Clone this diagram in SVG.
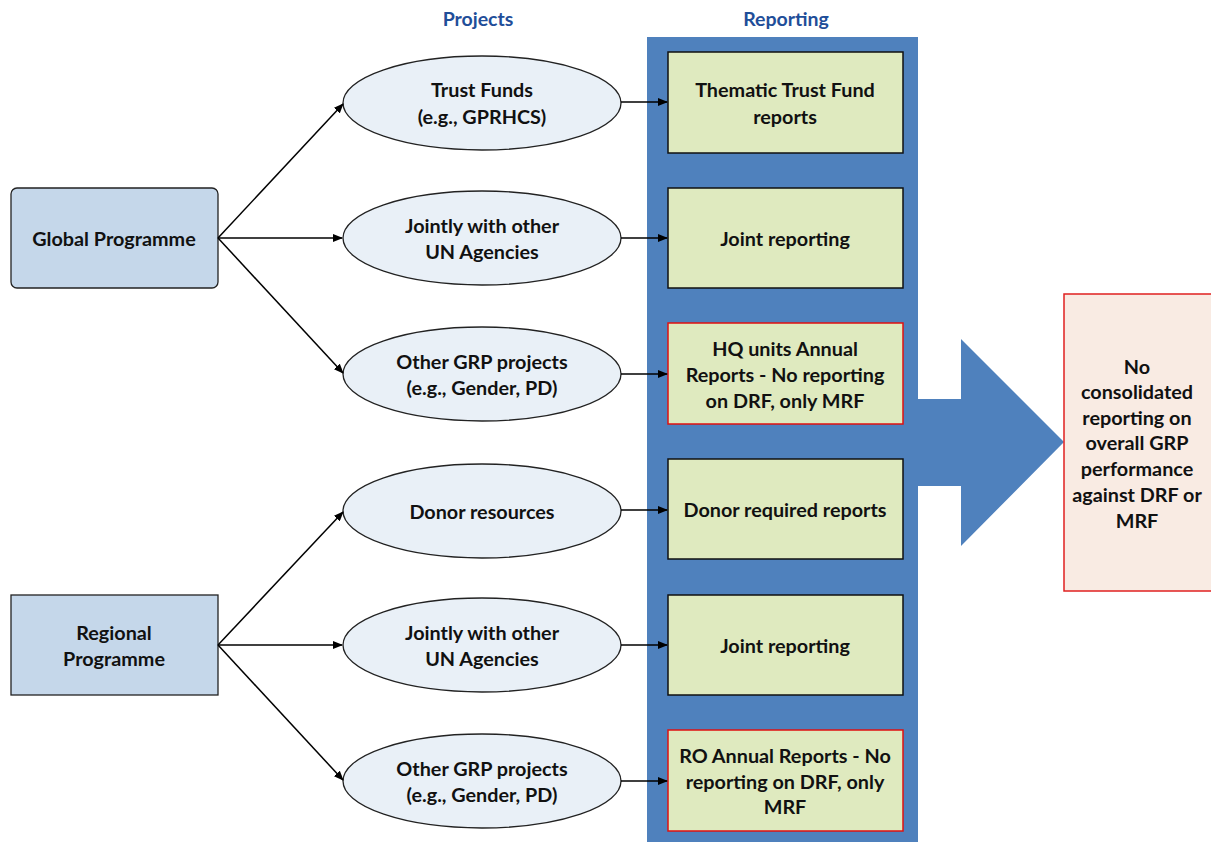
<svg xmlns="http://www.w3.org/2000/svg" width="1211" height="842" viewBox="0 0 1211 842">
<defs>
<marker id="ah" markerWidth="10" markerHeight="8" refX="9" refY="4" orient="auto" markerUnits="userSpaceOnUse">
<path d="M0,0 L10,4 L0,8 z" fill="#000"/>
</marker>
<style>
text{font-family:Lato,"Open Sans","Liberation Sans",sans-serif;font-weight:bold;font-size:19.8px;fill:#111;text-anchor:middle;dominant-baseline:central}
.hdr{fill:#1f4e99;font-size:19.5px}
.prog{fill:#c5d7ea;stroke:#222;stroke-width:1.3}
.ell{fill:#e9f0f7;stroke:#222;stroke-width:1.3}
.rep{fill:#dfeabf;stroke:#111;stroke-width:1.5}
.repred{fill:#dfeabf;stroke:#e01010;stroke-width:1.5}
.conn{stroke:#000;stroke-width:1.5;fill:none;marker-end:url(#ah)}
</style>
</defs>
<rect width="1211" height="842" fill="#fff"/>
<text class="hdr" x="478" y="18">Projects</text>
<text class="hdr" x="786" y="18">Reporting</text>
<g id="reporting-column">
<rect x="647" y="37" width="271" height="805" fill="#4f81bd"/>
</g>
<g id="big-arrow">
<polygon points="917,399 961,399 961,339 1064,442 961,546 961,486 917,486" fill="#4f81bd"/>
</g>
<g id="global-programme">
<rect class="prog" x="11" y="188" width="207" height="100" rx="6"/>
<text x="114" y="238">Global Programme</text>
</g>
<g id="regional-programme">
<rect class="prog" x="11" y="595" width="207" height="100"/>
<text x="114" y="632">Regional</text>
<text x="114" y="658">Programme</text>
</g>
<g id="trust-funds">
<ellipse class="ell" cx="482" cy="103" rx="139" ry="47"/>
<text x="482" y="89">Trust Funds</text>
<text x="482" y="116">(e.g., GPRHCS)</text>
</g>
<g id="jointly-global">
<ellipse class="ell" cx="482" cy="238" rx="139" ry="47"/>
<text x="482" y="225">Jointly with other</text>
<text x="482" y="251">UN Agencies</text>
</g>
<g id="other-grp-global">
<ellipse class="ell" cx="482" cy="374" rx="139" ry="47"/>
<text x="482" y="361">Other GRP projects</text>
<text x="482" y="387">(e.g., Gender, PD)</text>
</g>
<g id="donor-resources">
<ellipse class="ell" cx="482" cy="511" rx="139" ry="47"/>
<text x="482" y="511">Donor resources</text>
</g>
<g id="jointly-regional">
<ellipse class="ell" cx="482" cy="645" rx="139" ry="47"/>
<text x="482" y="632">Jointly with other</text>
<text x="482" y="658">UN Agencies</text>
</g>
<g id="other-grp-regional">
<ellipse class="ell" cx="482" cy="781" rx="139" ry="47"/>
<text x="482" y="768">Other GRP projects</text>
<text x="482" y="794">(e.g., Gender, PD)</text>
</g>
<g id="thematic-reports">
<rect class="rep" x="668" y="52" width="235" height="101"/>
<text x="785" y="89">Thematic Trust Fund</text>
<text x="785" y="116">reports</text>
</g>
<g id="joint-reporting-global">
<rect class="rep" x="668" y="188" width="235" height="100"/>
<text x="785" y="238">Joint reporting</text>
</g>
<g id="hq-annual-reports">
<rect class="repred" x="668" y="323" width="235" height="101"/>
<text x="785" y="348">HQ units Annual</text>
<text x="785" y="374">Reports - No reporting</text>
<text x="785" y="400">on DRF, only MRF</text>
</g>
<g id="donor-reports">
<rect class="rep" x="668" y="459" width="235" height="100"/>
<text x="785" y="509">Donor required reports</text>
</g>
<g id="joint-reporting-regional">
<rect class="rep" x="668" y="595" width="235" height="100"/>
<text x="785" y="645">Joint reporting</text>
</g>
<g id="ro-annual-reports">
<rect class="repred" x="668" y="730" width="235" height="101"/>
<text x="785" y="755">RO Annual Reports - No</text>
<text x="785" y="781">reporting on DRF, only</text>
<text x="785" y="806">MRF</text>
</g>
<g id="no-consolidated">
<rect x="1064" y="294" width="150" height="297" fill="#f9ebe3" stroke="#e02020" stroke-width="1.5"/>
<text x="1137" y="366">No</text>
<text x="1137" y="391">consolidated</text>
<text x="1137" y="417">reporting on</text>
<text x="1137" y="442">overall GRP</text>
<text x="1137" y="468">performance</text>
<text x="1137" y="494">against DRF or</text>
<text x="1137" y="520">MRF</text>
</g>
<g id="connectors">
<line class="conn" x1="218" y1="238" x2="343" y2="104"/>
<line class="conn" x1="218" y1="238" x2="342" y2="238"/>
<line class="conn" x1="218" y1="238" x2="343" y2="373"/>
<line class="conn" x1="218" y1="645" x2="343" y2="512"/>
<line class="conn" x1="218" y1="645" x2="342" y2="645"/>
<line class="conn" x1="218" y1="645" x2="343" y2="780"/>
<line class="conn" x1="621" y1="102" x2="667" y2="102"/>
<line class="conn" x1="621" y1="238" x2="667" y2="238"/>
<line class="conn" x1="621" y1="374" x2="667" y2="374"/>
<line class="conn" x1="621" y1="510" x2="667" y2="510"/>
<line class="conn" x1="621" y1="645" x2="667" y2="645"/>
<line class="conn" x1="621" y1="781" x2="667" y2="781"/>
</g>
</svg>
